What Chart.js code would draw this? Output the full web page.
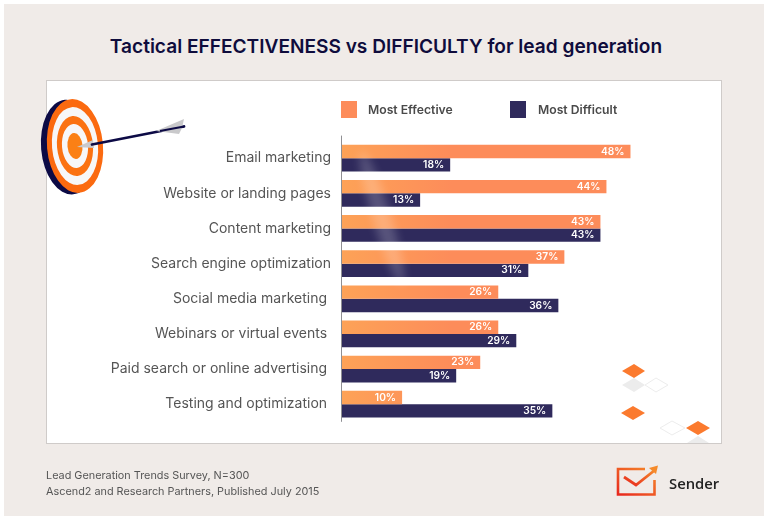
<!DOCTYPE html>
<html>
<head>
<meta charset="utf-8">
<title>Tactical effectiveness vs difficulty</title>
<script src="https://cdn.jsdelivr.net/npm/chart.js@4"></script>
<style>
html,body{margin:0;padding:0;background:#fff;}
#page{position:relative;width:769px;height:520px;overflow:hidden;font-family:Inter,sans-serif;}
#bg{position:absolute;left:4px;top:4px;width:760px;height:512px;background:#f0ebe8;}
#panel{position:absolute;left:46px;top:80px;width:674px;height:362px;background:#fff;border:1px solid #cfcbc9;}
#title{position:absolute;left:0;top:34px;width:772px;text-align:center;font-size:19.1px;font-weight:600;color:#0f0c3c;line-height:24px;white-space:nowrap;}
#myChart{position:absolute;left:0;top:0;}
.deco{position:absolute;left:0;top:0;pointer-events:none;}
.key{position:absolute;top:101px;width:16px;height:17px;}
.keyText{position:absolute;top:102px;font-size:12.2px;font-weight:600;color:#4a4a4a;line-height:16px;white-space:nowrap;}
#source{position:absolute;left:46px;top:467px;font-size:10.85px;line-height:16px;color:#555;white-space:nowrap;}
#brand{position:absolute;left:669px;top:472px;font-family:"Open Sans",sans-serif;font-size:14.8px;font-weight:600;color:#222;line-height:22px;}
</style>
</head>
<body>
<div id="page">
  <div id="bg"></div>
  <div id="panel"></div>
  <div id="title">Tactical EFFECTIVENESS vs DIFFICULTY for lead generation</div>
  <canvas id="myChart" width="769" height="520"></canvas>

  <svg class="deco" width="769" height="520">
    <defs>
      <filter id="soft" x="-50%" y="-50%" width="200%" height="200%"><feGaussianBlur stdDeviation="5"/></filter>
      <linearGradient id="logo" x1="0" y1="1" x2="1" y2="0">
        <stop offset="0" stop-color="#e8281e"/><stop offset="1" stop-color="#f58a2a"/>
      </linearGradient>
    </defs>
    <!-- smoke streak over the bars -->
    <ellipse cx="382" cy="218" rx="9" ry="70" transform="rotate(-17 382 218)" fill="#fff" opacity=".2" filter="url(#soft)"/>
    <!-- target -->
    <g transform="rotate(-5 75 146)">
      <ellipse cx="69" cy="146.5" rx="28" ry="47.5" fill="#0c0a45"/>
      <ellipse cx="75" cy="146" rx="28" ry="47" fill="#fb6a10"/>
      <ellipse cx="75" cy="146" rx="23" ry="39" fill="#f7f7f8"/>
      <ellipse cx="75" cy="146" rx="18" ry="30" fill="#fb7212"/>
      <ellipse cx="75" cy="146" rx="13" ry="22" fill="#f7f7f8"/>
      <ellipse cx="75" cy="146" rx="7.5" ry="13" fill="#fb8015"/>
    </g>
    <polygon points="77,147 93,140 94,148" fill="#c9c9cb"/>
    <line x1="92" y1="144.5" x2="184" y2="126.5" stroke="#0c0a45" stroke-width="2.8" stroke-linecap="round"/>
    <polygon points="156,131 184,119 182,128 179,134" fill="#c9c9cb"/>
    <line x1="160" y1="131" x2="184" y2="126.5" stroke="#0c0a45" stroke-width="2"/>
    <!-- diamonds -->
    <polygon points="622,371 634,364 645,371 634,378" fill="#fb7a2e"/>
    <polygon points="622,385 634,378 645,385 634,392" fill="#ececec"/>
    <polygon points="645,385 656,378 668,385 656,392" fill="#fff" stroke="#ececec"/>
    <polygon points="621,413 633,406 645,413 633,420" fill="#fb7a2e"/>
    <polygon points="660,428 672,421 685,428 672,435" fill="#fff" stroke="#ececec"/>
    <polygon points="686,428 698,421 710,428 698,435" fill="#fb7a2e"/>
    <polygon points="687,443 698,436 709,443" fill="#ececec"/>
    <!-- logo -->
    <path d="M645 469 H618 V494.5 H654.5 V480" fill="none" stroke="url(#logo)" stroke-width="2.6"/>
    <path d="M624 477 L636 485 L655 470" fill="none" stroke="url(#logo)" stroke-width="2.8"/>
    <polygon points="649,468 658,465.5 656,474" fill="#f58a2a"/>
  </svg>

  <div id="legend"></div>
  <div id="source">Lead Generation Trends Survey, N=300<br>Ascend2 and Research Partners, Published July 2015</div>
  <div id="brand">Sender</div>
</div>

<script>
'use strict'
// trailing spaces: some labels in the original sit a little further from the axis
let categories = ['Email marketing','Website or landing pages','Content marketing','Search engine optimization','Social media marketing ','Webinars or virtual events ','Paid search or online advertising ','Testing and optimization '];
let mostEffective = [48,44,43,37,26,26,23,10];
let mostDifficult = [18,13,43,31,36,29,19,35];
let seriesNames = ['Most Effective','Most Difficult'];
let seriesColors = ['#fd8c5a','#2f2a5c'];

let legendEl = document.getElementById('legend');
let keyX = [341,510];
let keyTextX = [368,538];
for(let i=0; i<seriesNames.length; i++){
    let box = document.createElement('div');
    box.className = 'key';
    box.style.left = keyX[i]+'px';
    box.style.background = seriesColors[i];
    legendEl.appendChild(box);
    let txt = document.createElement('div');
    txt.className = 'keyText';
    txt.style.left = keyTextX[i]+'px';
    txt.textContent = seriesNames[i];
    legendEl.appendChild(txt);
}

// white percentages inside the bar ends, and the axis line running a bit past the plot
let barLabels = {
    id:'barLabels',
    afterDatasetsDraw(chart){
        let ctx = chart.ctx;
        ctx.save();
        ctx.font = '600 10.2px Inter';
        ctx.fillStyle = '#fff';
        ctx.textAlign = 'right';
        ctx.textBaseline = 'middle';
        chart.data.datasets.forEach((ds,d)=>{
            chart.getDatasetMeta(d).data.forEach((bar,i)=>{
                ctx.fillText(ds.data[i]+'%', bar.x-6, bar.y);
            });
        });
        ctx.restore();
    },
    afterDraw(chart){
        let ctx = chart.ctx;
        let area = chart.chartArea;
        ctx.save();
        ctx.strokeStyle = '#8f8f93';
        ctx.lineWidth = 1;
        ctx.beginPath();
        ctx.moveTo(area.left-0.5, area.top-5);
        ctx.lineTo(area.left-0.5, area.bottom);
        ctx.stroke();
        ctx.restore();
    }
};

function orangeFill(context){
    let area = context.chart.chartArea;
    if(!area) return seriesColors[0];
    let g = context.chart.ctx.createLinearGradient(area.left,0,area.left+110,0);
    g.addColorStop(0,'#fda257');
    g.addColorStop(1,seriesColors[0]);
    return g;
}

let ctx = document.getElementById('myChart').getContext('2d');
let myChart = new Chart(ctx, {
    type: 'bar',
    data: {
        labels: categories,
        datasets: [{
            label: seriesNames[0],
            data: mostEffective,
            backgroundColor: orangeFill,
            categoryPercentage: 0.76,
            barPercentage: 1
        },{
            label: seriesNames[1],
            data: mostDifficult,
            backgroundColor: seriesColors[1],
            categoryPercentage: 0.76,
            barPercentage: 1
        }]
    },
    plugins: [barLabels],
    options: {
        indexAxis: 'y',
        responsive: false,
        animation: false,
        layout: { padding: { left:0, right:66.4, top:140.6, bottom:98.2 } },
        plugins: { legend:{display:false}, tooltip:{enabled:false} },
        scales: {
            x: { display:false, min:0, max:60 },
            y: {
                afterFit(scale){ scale.width = 342; },
                grid: { display:false, drawTicks:false },
                border: { display:false },
                ticks: { padding:11, color:'#555', font:{family:'Inter', size:14}, autoSkip:false }
            }
        }
    }
});
</script>
</body>
</html>
